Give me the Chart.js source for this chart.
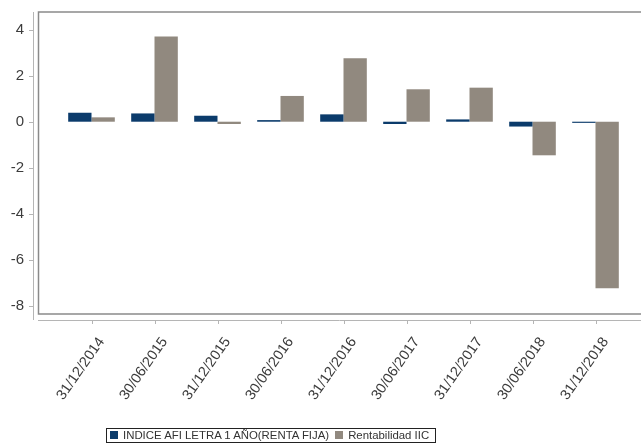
<!DOCTYPE html>
<html>
<head>
<meta charset="utf-8">
<script src="https://cdn.jsdelivr.net/npm/chart.js@4.4.1/dist/chart.umd.min.js"></script>
<style>
    html, body { margin: 0; padding: 0; background: #fff; }
    #wrap { position: relative; width: 641px; height: 443px; }
    #legend {
        position: absolute; left: 106px; top: 428px; width: 330px; height: 15px;
        border: 1px solid #222; box-sizing: border-box;
        font: 11.4px "Liberation Sans", Arial, sans-serif; color: #333;
        line-height: 13px; white-space: nowrap; padding-left: 3px;
    }
    #legend span.sw { display: inline-block; width: 8px; height: 8px; margin-right: 5px; vertical-align: 0px; }
    #legend span.item { margin-right: 6px; }
</style>
</head>
<body>
<div id="wrap">
    <canvas id="chart" width="641" height="443"></canvas>
    <div id="legend"></div>
</div>
<script>
// Fechas de cierre
const fechas = ['31/12/2014', '30/06/2015', '31/12/2015', '30/06/2016', '31/12/2016',
    '30/06/2017', '31/12/2017', '30/06/2018', '31/12/2018'];
// INDICE AFI LETRA 1 AÑO(RENTA FIJA)
const indiceAfi = [0.39, 0.36, 0.26, 0.07, 0.32, -0.1, 0.1, -0.21, -0.05];
// Rentabilidad IIC
const rentabilidadIic = [0.19, 3.7, -0.1, 1.12, 2.76, 1.41, 1.48, -1.46, -7.24];
const yTicks = [4, 2, 0, -2, -4, -6, -8];

const nombres = ['INDICE AFI LETRA 1 AÑO(RENTA FIJA)', 'Rentabilidad IIC'];
const colores = ['#0b3b6b', '#91897f'];

const fontFamily = '"Liberation Sans", Arial, sans-serif';

// frame, axis lines and tick marks like the original
const framePlugin = {
    id: 'frame',
    afterDraw(chart) {
        const ctx = chart.ctx;
        const area = chart.chartArea;
        const y = chart.scales.y;
        const x = chart.scales.x;
        ctx.save();
        ctx.strokeStyle = '#8a8a8a';
        ctx.lineWidth = 1.5;
        ctx.beginPath();
        ctx.moveTo(641, area.top);
        ctx.lineTo(38.5, area.top);
        ctx.lineTo(38.5, area.bottom);
        ctx.lineTo(641, area.bottom);
        ctx.stroke();

        ctx.strokeStyle = '#b5b5b5';
        ctx.lineWidth = 1;
        ctx.beginPath();
        ctx.moveTo(33.5, area.top);
        ctx.lineTo(33.5, area.bottom + 6);
        yTicks.forEach(v => {
            const py = Math.round(y.getPixelForValue(v)) + 0.5;
            ctx.moveTo(29, py);
            ctx.lineTo(33.5, py);
        });
        ctx.moveTo(38, area.bottom + 6.5);
        ctx.lineTo(641, area.bottom + 6.5);
        fechas.forEach((f, i) => {
            const px = Math.round(x.getPixelForValue(i)) + 0.5;
            ctx.moveTo(px, area.bottom + 6.5);
            ctx.lineTo(px, area.bottom + 10);
        });
        ctx.stroke();
        ctx.restore();
    }
};

const ctx = document.getElementById('chart').getContext('2d');
const chart = new Chart(ctx, {
    type: 'bar',
    data: {
        labels: fechas,
        datasets: [{
            label: nombres[0],
            data: indiceAfi,
            backgroundColor: colores[0],
            borderWidth: 0
        }, {
            label: nombres[1],
            data: rentabilidadIic,
            backgroundColor: colores[1],
            borderWidth: 0
        }]
    },
    options: {
        responsive: false,
        animation: false,
        categoryPercentage: 0.74,
        barPercentage: 1,
        layout: { padding: { top: 12, right: 14, left: 0, bottom: 0 } },
        scales: {
            y: {
                min: -8.36,
                max: 4.77,
                grid: { display: false, drawTicks: false },
                border: { display: false },
                ticks: {
                    stepSize: 2,
                    includeBounds: false,
                    padding: 36,
                    color: '#3c3c3c',
                    font: { family: fontFamily, size: 15 }
                },
                afterBuildTicks: s => { s.ticks = yTicks.map(v => ({ value: v })); },
                afterFit: s => {
                    s.width = 60;
                    // tick padding would otherwise be added above and below the plot
                    s.paddingTop = 0;
                    s.paddingBottom = 0;
                }
            },
            x: {
                grid: { display: false, drawTicks: false },
                border: { display: false },
                ticks: {
                    autoSkip: false,
                    minRotation: 55,
                    maxRotation: 55,
                    padding: 20,
                    labelOffset: 10,
                    color: '#3c3c3c',
                    font: { family: fontFamily, size: 14.5 }
                },
                afterFit: s => {
                    s.height = 443 - 314;
                    s.paddingLeft = 0;
                    s.paddingRight = 0;
                }
            }
        },
        plugins: {
            legend: { display: false },
            tooltip: { enabled: false }
        }
    },
    plugins: [framePlugin]
});

// legend as html box under the chart
const legendEl = document.getElementById('legend');
chart.data.datasets.forEach(ds => {
    const item = document.createElement('span');
    item.className = 'item';
    const sw = document.createElement('span');
    sw.className = 'sw';
    sw.style.background = ds.backgroundColor;
    item.appendChild(sw);
    item.appendChild(document.createTextNode(ds.label));
    legendEl.appendChild(item);
});
</script>
</body>
</html>
